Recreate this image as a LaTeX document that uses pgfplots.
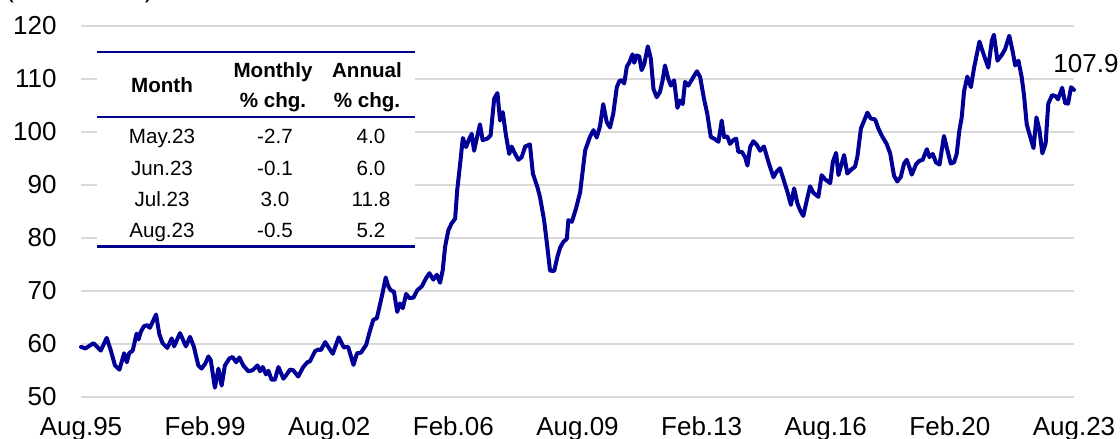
\documentclass[border=0pt]{standalone}
\usepackage{pgfplots}
\pgfplotsset{compat=1.18}
\usepackage{fontspec}
\setmainfont{Liberation Sans}
\definecolor{navy}{RGB}{0,0,150}
\definecolor{rulecol}{RGB}{0,0,140}
\definecolor{gridcol}{RGB}{217,217,217}
\pgfplotstableread{
m v
0 59.4
1.5 59.1
4.2 60.1
6.7 58.7
8.7 61.1
10.1 58.7
11.5 55.9
13.0 55.1
14.6 58.2
15.5 56.5
16.3 58.2
17.5 58.7
18.8 61.9
19.5 60.8
20.2 62.2
21.3 63.3
22.4 63.5
23.3 63.0
25.4 65.5
26.5 61.8
27.6 60.1
29.2 59.2
30.7 61.0
31.5 59.5
33.5 62.0
35.5 59.5
36.9 61.3
38.2 59.4
39.7 55.9
40.8 55.3
42.0 56.2
43.1 57.6
43.9 56.9
45.3 51.7
46.5 55.3
47.6 52.1
48.7 55.9
50.2 57.2
51.3 57.5
52.5 56.5
53.6 57.4
54.9 55.9
56.6 54.8
58.1 55.0
59.7 55.9
60.6 54.8
61.5 55.6
62.6 54.2
63.4 54.9
64.5 53.2
65.6 53.2
66.8 55.6
68.5 53.4
69.6 54.2
70.7 55.1
71.8 55.0
73.5 53.8
75.2 55.6
76.6 56.5
77.5 56.7
79.2 58.6
80.3 58.9
81.2 58.8
82.6 60.3
85.2 58.1
87.2 61.2
88.9 59.3
90.4 59.4
92.2 56.0
93.4 58.2
94.7 58.3
96.5 59.8
97.7 62.3
98.9 64.5
100.1 64.8
102.1 69.7
103.1 72.5
104.0 70.8
104.8 70.1
105.9 69.8
107.0 66.0
107.9 67.6
108.9 66.7
110.0 69.4
111.1 68.6
112.5 68.7
113.8 70.1
115.3 70.8
116.7 72.3
117.9 73.3
119.2 72.1
120.4 73.0
121.5 71.5
122.4 73.9
123.2 78.3
124.3 81.4
125.4 82.7
126.6 83.6
127.3 89.0
128.3 94.0
129.2 98.8
129.6 98.2
130.3 97.1
131.4 98.7
132.2 99.6
133.0 96.4
133.9 98.7
135.0 101.4
135.9 98.4
137.5 98.7
138.6 99.3
139.8 106.2
140.9 107.3
141.8 102.1
142.7 103.7
143.8 99.3
144.9 95.8
145.7 97.2
146.9 95.8
148.0 94.7
149.1 95.2
150.3 97.2
151.9 97.6
152.9 92.1
154.4 89.6
155.3 87.7
156.7 83.3
157.8 78.2
158.7 73.8
160.1 73.7
161.2 76.4
162.1 78.1
163.2 79.2
164.4 79.8
164.9 83.3
166.1 83.0
167.5 85.5
168.9 88.6
170.6 96.5
172.2 99.0
173.4 100.3
174.5 98.9
175.6 101.0
176.7 105.2
177.9 101.8
179.0 100.8
180.1 103.4
181.3 108.4
182.2 109.6
183.0 109.7
183.8 109.1
184.7 112.3
185.5 113.0
186.6 114.6
187.2 113.0
188.0 114.4
188.9 114.2
189.7 111.6
190.6 112.8
191.8 116.1
192.8 113.8
193.7 108.1
194.8 106.5
195.9 107.5
196.8 109.7
197.6 112.5
198.7 110.0
199.6 108.7
200.7 109.7
201.8 104.5
202.7 105.9
203.6 105.2
204.4 109.4
205.5 108.7
207.2 110.3
208.4 111.4
209.5 110.3
210.8 106.2
211.9 103.4
213.1 99.0
214.2 98.7
215.7 98.1
216.8 102.1
217.6 99.0
218.7 99.1
219.6 97.7
220.7 98.4
221.7 98.7
222.4 96.2
223.6 96.2
224.7 95.2
225.5 93.6
226.4 97.1
227.5 98.2
228.7 97.5
229.8 96.4
231.1 97.2
232.6 94.3
234.3 91.4
235.4 92.5
236.5 93.1
237.7 91.0
239.0 88.7
240.2 86.2
241.3 89.3
242.4 86.5
243.3 85.2
244.4 84.1
245.6 87.1
246.7 89.7
247.8 88.5
249.5 87.7
250.6 91.8
251.8 91.0
253.5 90.3
254.4 94.3
255.5 96.0
256.3 91.8
258.2 95.6
259.3 92.1
260.5 92.8
261.9 93.4
262.7 95.3
263.9 100.6
265.0 102.1
266.1 103.6
267.2 102.5
268.7 102.3
269.8 100.6
271.0 99.2
272.6 97.7
273.8 95.9
275.1 91.7
276.2 90.6
277.4 91.5
278.5 94.0
279.4 94.7
280.3 93.3
281.1 91.9
282.6 93.9
283.7 94.5
284.8 94.7
286.2 96.7
287.1 95.2
288.2 95.8
289.3 94.2
290.5 93.8
292.0 99.2
293.2 96.4
294.3 94.0
295.4 94.2
296.3 95.8
297.2 100.2
298.0 102.7
298.8 107.6
299.9 110.4
301.1 108.4
302.2 112.1
304.0 117.0
305.6 114.3
307.0 112.1
308.2 117.2
308.9 118.3
310.1 113.4
311.6 114.5
312.7 115.6
314.1 118.1
315.3 115.0
316.1 112.5
317.2 113.4
318.3 110.3
319.1 106.8
320.0 101.4
320.9 99.6
322.3 96.9
323.3 102.7
324.3 100.3
325.3 95.9
326.4 97.8
327.3 105.3
328.6 106.9
329.8 106.7
330.6 106.1
332 108.3
333 105.4
334 105.3
335 108.4
336 107.9
}\pricedata
\begin{document}
\begin{tikzpicture}
\useasboundingbox (0,0) rectangle (560bp,219.5bp);
\begin{axis}[
  at={(40.5bp,21.15bp)}, anchor=south west, scale only axis,
  width=496.5bp, height=185.5bp,
  xmin=0, xmax=336, ymin=50, ymax=120,
  axis line style={draw=none},
  major tick length=0pt,
  xtick={0,42,...,336},
  xticklabels={Aug.95,Feb.99,Aug.02,Feb.06,Aug.09,Feb.13,Aug.16,Feb.20,Aug.23},
  ytick={50,60,...,120},
  ymajorgrids,
  major grid style={gridcol, line width=0.85bp},
  tick label style={font=\fontsize{13bp}{15bp}\selectfont, inner sep=0pt},
  xticklabel style={anchor=north, yshift=-10bp},
  yticklabel style={anchor=east, xshift=-12bp},
  /pgf/number format/assume math mode=true,
  clip=false,
]
\addplot[navy, line width=2bp, line join=round, line cap=round] table[x=m, y=v] {\pricedata};
\node[anchor=south, inner sep=0pt, font=\fontsize{13bp}{15bp}\selectfont, xshift=6bp, yshift=8.5bp] at (axis cs:336,107.9) {107.9};
\end{axis}
\begin{scope}[x=0.5bp, y=-0.5bp, yshift=219.5bp]
  \fill[white] (97,50) rectangle (415,249);
  \draw[rulecol, line width=1bp] (97,51.7) -- (415,51.7);
  \draw[rulecol, line width=1bp] (97,116.7) -- (415,116.7);
  \draw[rulecol, line width=1.5bp] (97,246.7) -- (415,246.7);
  \begin{scope}[every node/.style={inner sep=0pt, anchor=base, font=\fontsize{10.3bp}{12bp}\selectfont}]
    \node[font=\fontsize{10.3bp}{12bp}\selectfont\bfseries] at (162,92.7) {Month};
    \node[font=\fontsize{10.3bp}{12bp}\selectfont\bfseries] at (273,78) {Monthly};
    \node[font=\fontsize{10.3bp}{12bp}\selectfont\bfseries] at (273,108) {\% chg.};
    \node[font=\fontsize{10.3bp}{12bp}\selectfont\bfseries] at (367,78) {Annual};
    \node[font=\fontsize{10.3bp}{12bp}\selectfont\bfseries] at (367,108) {\% chg.};
    \node at (162,143.4) {May.23};
    \node at (275,143.4) {-2.7};
    \node at (371,143.4) {4.0};
    \node at (162,175.1) {Jun.23};
    \node at (275,175.1) {-0.1};
    \node at (371,175.1) {6.0};
    \node at (162,206.7) {Jul.23};
    \node at (275,206.7) {3.0};
    \node at (371,206.7) {11.8};
    \node at (162,237.4) {Aug.23};
    \node at (275,237.4) {-0.5};
    \node at (371,237.4) {5.2};
  \end{scope}
  \node[anchor=base west, inner sep=0pt, font=\fontsize{13bp}{15bp}\selectfont] at (5,-2) {(2010 = 100)};
\end{scope}
\end{tikzpicture}
\end{document}
